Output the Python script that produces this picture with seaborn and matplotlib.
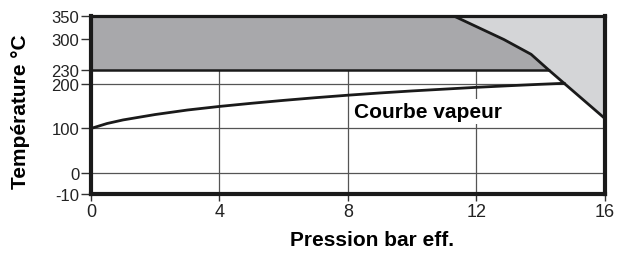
import numpy as np
import pandas as pd
import seaborn as sns
import matplotlib
matplotlib.use("Agg")
import matplotlib.pyplot as plt

# saturation curve (pression relative, bar / temperature, degC)
p_vap = [0, 0.5, 1, 2, 3, 4, 5, 6, 7, 8, 9, 10, 11, 12, 13, 14, 14.74]
t_vap = [100, 111, 119, 131, 141, 149, 156, 162.5, 168.5, 174, 179,
         183.5, 187.5, 191.5, 195, 198.3, 200.5]

# limit of the zone (upper right boundary)
p_lim = [11.3, 12.85, 13.7, 14.25, 16]
t_lim = [350, 298, 265, 230, 122]

x_ticks = [0, 4, 8, 12, 16]
y_ticks = [-10, 0, 100, 200, 230, 300, 350]
y_grid = [0, 100, 200]
t_low, t_high = 230, 350

sns.set_theme(style="white")
plt.rcParams['font.family'] = ['Liberation Sans', 'DejaVu Sans']


# the part below 0 is stretched on the reference
def fwd(y):
    y = np.asarray(y, dtype=float)
    return np.where(y < 0, y * 4.6, y)


def inv(y):
    y = np.asarray(y, dtype=float)
    return np.where(y < 0, y / 4.6, y)


fig = plt.figure(figsize=(6.17, 2.55), dpi=100)
ax = fig.add_axes([0.1475, 0.235, 0.833, 0.698])
ax.set_yscale('function', functions=(fwd, inv))

# grid lines (under the gray areas)
for yg in y_grid:
    ax.axhline(yg, color='#555555', lw=0.9, zorder=0)
for xg in x_ticks[1:-1]:
    ax.axvline(xg, color='#555555', lw=0.9, zorder=0)

# dark zone
dark_x = [0, 0] + p_lim[:4]
dark_y = [t_low, t_high] + t_lim[:4]
ax.fill(dark_x, dark_y, color='#a8a8ab', lw=0, zorder=1)

# light zone
light_x = p_lim + [16]
light_y = t_lim + [t_high]
ax.fill(light_x, light_y, color='#d4d5d7', lw=0, zorder=1)

ax.plot([0, p_lim[3]], [t_low, t_low], color='#1a1a1a', lw=1.8, zorder=3)
ax.plot(p_lim, t_lim, color='#1a1a1a', lw=2.0, zorder=3)

df = pd.DataFrame({'p': p_vap, 't': t_vap})
sns.lineplot(data=df, x='p', y='t', ax=ax, color='#1a1a1a', lw=2.0, zorder=4)

ax.text(10.5, 138, 'Courbe vapeur', fontsize=15, fontweight='bold',
        ha='center', va='center', color='black', zorder=5,
        bbox=dict(facecolor='white', edgecolor='none', pad=2))

ax.set_xlim(0, 16)
ax.set_ylim(-10, 350)
ax.set_xticks(x_ticks)
ax.set_yticks(y_ticks)
ax.set_yticklabels([str(v) for v in y_ticks])
ax.minorticks_off()

ax.tick_params(axis='y', direction='out', length=7, width=1, pad=1.5,
               colors='#333333', labelsize=12, labelcolor='#222222', left=True)
ax.tick_params(axis='x', direction='out', length=5, width=1, pad=1.5,
               colors='#333333', labelsize=13, labelcolor='#222222', bottom=True)

for side in ['left', 'bottom', 'right']:
    ax.spines[side].set_linewidth(3.0)
    ax.spines[side].set_color('#1a1a1a')
ax.spines['top'].set_linewidth(2.3)
ax.spines['top'].set_color('#1a1a1a')
for s in ax.spines.values():
    s.set_zorder(6)

ax.set_xlabel('Pression bar eff.', fontsize=15, fontweight='bold', color='black')
ax.xaxis.set_label_coords(0.546, -0.2)
ax.set_ylabel('Température °C', fontsize=15, fontweight='bold', color='black')
ax.yaxis.set_label_coords(-0.118, 0.47)

fig.savefig('out.png', dpi=100)
